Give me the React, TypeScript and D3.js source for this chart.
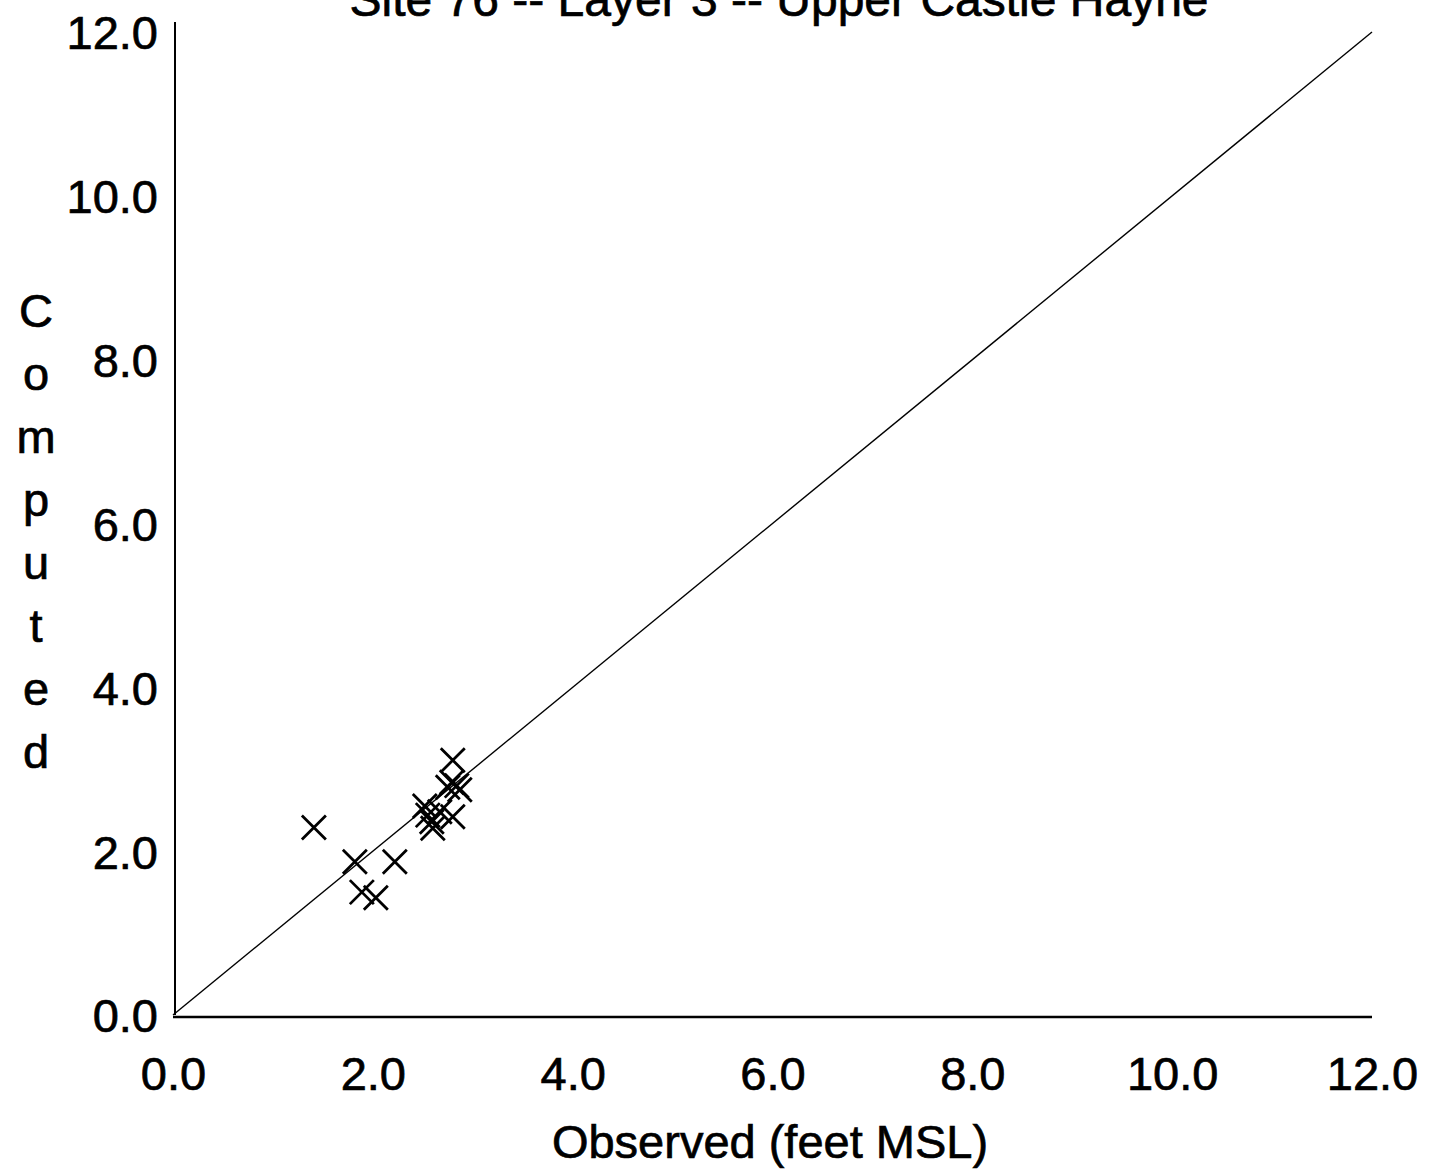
import React, { useRef, useEffect } from 'react';
import { select, scaleLinear, axisLeft, axisBottom, format, line } from 'd3';

const title = 'Site 76 -- Layer 3 -- Upper Castle Hayne';
const xTitle = 'Observed (feet MSL)';
const yTitle = 'Computed';
const tickValues = [0, 2, 4, 6, 8, 10, 12];

// observed / computed heads (feet MSL)
const observed = [
  1.41, 1.82, 1.89, 2.03, 2.22, 2.52, 2.55, 2.59, 2.6, 2.67, 2.75, 2.79, 2.84,
  2.87, 2.8, 2.8,
];
const computed = [
  2.29, 1.87, 1.5, 1.43, 1.87, 2.55, 2.44, 2.36, 2.28, 2.48, 2.78, 2.84, 2.8,
  2.75, 3.11, 2.42,
];

const W = 1436;
const H = 1174;
const FONT = '"Liberation Sans", Arial, sans-serif';

const App = () => {
  const svgRef = useRef(null);

  useEffect(() => {
    document.body.style.margin = '0';
    const svg = select(svgRef.current);
    svg.selectAll('*').remove();

    const xScale = scaleLinear().domain([0, 12]).range([173, 1372]);
    const yScale = scaleLinear().domain([0, 12]).range([1015, 32]);

    // scanned look: text a little heavier than regular
    const ink = (sel) =>
      sel
        .attr('font-family', FONT)
        .attr('fill', '#000')
        .attr('stroke', '#000')
        .attr('stroke-width', 0.7);

    // axes: labels only, no tick marks
    const yAxis = axisLeft(yScale)
      .tickValues(tickValues)
      .tickSize(0)
      .tickPadding(17)
      // @ts-ignore
      .tickFormat(format('.1f'));
    const gy = svg
      .append('g')
      .attr('transform', `translate(${xScale(0) + 2},0)`)
      // @ts-ignore
      .call(yAxis);
    gy.select('.domain').remove();
    gy.selectAll('text')
      .call(ink)
      .attr('font-size', 47)
      .attr('dy', '0.36em');

    const xAxis = axisBottom(xScale)
      .tickValues(tickValues)
      .tickSize(0)
      .tickPadding(0)
      // @ts-ignore
      .tickFormat(format('.1f'));
    const gx = svg
      .append('g')
      .attr('transform', `translate(0,${yScale(0)})`)
      // @ts-ignore
      .call(xAxis);
    gx.select('.domain').remove();
    gx.selectAll('text')
      .call(ink)
      .attr('font-size', 47)
      .attr('dy', null)
      .attr('y', 75);

    // axis lines
    svg
      .append('line')
      .attr('x1', xScale(0) + 2)
      .attr('x2', xScale(0) + 2)
      .attr('y1', 22)
      .attr('y2', yScale(0))
      .attr('stroke', '#000')
      .attr('stroke-width', 2);
    svg
      .append('line')
      .attr('x1', xScale(0))
      .attr('x2', xScale(12))
      .attr('y1', yScale(0) + 2)
      .attr('y2', yScale(0) + 2)
      .attr('stroke', '#000')
      .attr('stroke-width', 2.5);

    // 1:1 line
    const oneToOne = line()
      .x((d) => xScale(d[0]))
      .y((d) => yScale(d[1]));
    svg
      .append('path')
      // @ts-ignore
      .attr('d', oneToOne([[0, 0], [12, 12]]))
      .attr('fill', 'none')
      .attr('stroke', '#000')
      .attr('stroke-width', 1.4);

    // X markers
    const s = 12;
    const pts = observed.map((o, i) => [xScale(o), yScale(computed[i])]);
    svg
      .selectAll('.pt')
      .data(pts)
      .join('path')
      .attr('class', 'pt')
      .attr(
        'd',
        (d) =>
          `M${d[0] - s},${d[1] - s}L${d[0] + s},${d[1] + s}M${d[0] - s},${d[1] + s}L${d[0] + s},${d[1] - s}`
      )
      .attr('fill', 'none')
      .attr('stroke', '#000')
      .attr('stroke-width', 2.8);

    // titles
    svg
      .append('text')
      .call(ink)
      .attr('x', 779)
      .attr('y', 16)
      .attr('text-anchor', 'middle')
      .attr('font-size', 48)
      .text(title);

    svg
      .append('text')
      .call(ink)
      .attr('x', 770)
      .attr('y', 1158)
      .attr('text-anchor', 'middle')
      .attr('font-size', 47)
      .text(xTitle);

    svg
      .append('text')
      .call(ink)
      .attr('text-anchor', 'middle')
      .attr('font-size', 47)
      .selectAll('tspan')
      .data(yTitle.split(''))
      .join('tspan')
      .attr('x', 36)
      .attr('y', (d, i) => 327 + i * 63)
      .text((d) => d);
  }, []);

  return (
    <svg
      ref={svgRef}
      width={W}
      height={H}
      style={{ display: 'block', background: '#fff' }}
    />
  );
};

export default App;
